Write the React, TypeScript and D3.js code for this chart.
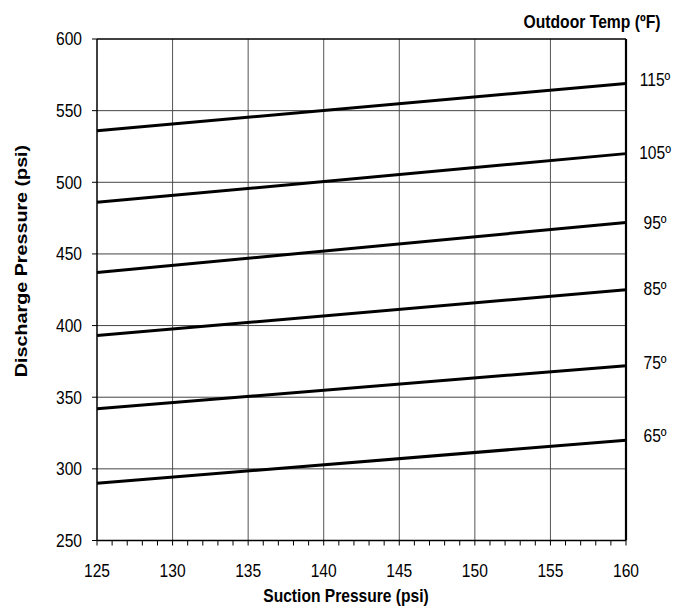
import React from "react";
import * as d3 from "d3";

const suction = [125, 160];
const temps = ["115º", "105º", "95º", "85º", "75º", "65º"];
const discharge115 = [536, 569];
const discharge105 = [486, 520];
const discharge95 = [437, 472];
const discharge85 = [393, 425];
const discharge75 = [342, 372];
const discharge65 = [290, 320];
const seriesValues = [discharge115, discharge105, discharge95, discharge85, discharge75, discharge65];
const labelValues = [571.5, 520.5, 472, 425.5, 374, 323];
const xTicks = [125, 130, 135, 140, 145, 150, 155, 160];
const yTicks = [250, 300, 350, 400, 450, 500, 550, 600];

const W = 686;
const H = 609;
const FONT = "'Liberation Sans', Arial, sans-serif";
const SY = 1.14;

function T(props: { x: number; y: number; size: number; anchor?: string; bold?: boolean; rotate?: boolean; children: React.ReactNode }) {
  const { x, y, size, anchor = "middle", bold = false, rotate = false, children } = props;
  return (
    <text
      transform={`translate(${x},${y}) scale(1,${SY})${rotate ? " rotate(-90)" : ""}`}
      fontFamily={FONT}
      fontSize={size}
      fontWeight={bold ? "bold" : "normal"}
      textAnchor={anchor}
      fill="#000"
    >
      {children}
    </text>
  );
}

export default function App() {
  const x = d3.scaleLinear().domain([125, 160]).range([97, 626]);
  const y = d3.scaleLinear().domain([250, 600]).range([540.5, 39]);
  const line = d3
    .line<[number, number]>()
    .x((d) => x(d[0]))
    .y((d) => y(d[1]));
  const minor = d3.range(125, 161, 1);
  const [x0, x1] = x.range();
  const [yb, yt] = y.range();

  return (
    <svg width={W} height={H} style={{ position: "absolute", left: 0, top: 0, background: "#fff" }}>
      <rect width={W} height={H} fill="#fff" />
      {/* grid */}
      {xTicks.slice(1, -1).map((t) => (
        <line key={"gx" + t} x1={x(t)} x2={x(t)} y1={yt} y2={yb} stroke="#555" strokeWidth={1} />
      ))}
      {yTicks.slice(1, -1).map((t) => (
        <line key={"gy" + t} x1={x0} x2={x1} y1={y(t)} y2={y(t)} stroke="#444" strokeWidth={1} />
      ))}
      {/* frame */}
      <line x1={x0} x2={x1} y1={yt} y2={yt} stroke="#000" strokeWidth={1.5} />
      <line x1={x0} x2={x1} y1={yb} y2={yb} stroke="#000" strokeWidth={1.5} />
      <line x1={x0} x2={x0} y1={yt} y2={yb} stroke="#000" strokeWidth={1.5} />
      <line x1={x1} x2={x1} y1={yt} y2={yb} stroke="#000" strokeWidth={2.2} />
      {/* x ticks */}
      {minor.map((t) => (
        <line key={"mx" + t} x1={x(t)} x2={x(t)} y1={yb} y2={yb + 5} stroke="#000" strokeWidth={1} />
      ))}
      {/* y ticks */}
      {yTicks.map((t) => (
        <line key={"ty" + t} x1={x0 - 5} x2={x0} y1={y(t)} y2={y(t)} stroke="#000" strokeWidth={1} />
      ))}
      {/* series */}
      {seriesValues.map((vals, i) => (
        <path
          key={"s" + i}
          d={line(suction.map((s, j) => [s, vals[j]] as [number, number])) || ""}
          fill="none"
          stroke="#000"
          strokeWidth={3}
        />
      ))}
      {/* tick labels */}
      {xTicks.map((t) => (
        <T key={"lx" + t} x={x(t)} y={577} size={15.6}>
          {t}
        </T>
      ))}
      {yTicks.map((t) => (
        <T key={"ly" + t} x={82} y={y(t) + 6.3} size={15.6} anchor="end">
          {t}
        </T>
      ))}
      {/* series labels */}
      {temps.map((lab, i) => (
        <T key={"tl" + i} x={655} y={y(labelValues[i]) + 6.3} size={15.6}>
          {lab}
        </T>
      ))}
      {/* titles */}
      <T x={592} y={28} size={15.7} bold>
        Outdoor Temp (ºF)
      </T>
      <T x={346} y={602} size={15.6} bold>
        Suction Pressure (psi)
      </T>
      <T x={27} y={261} size={17.3} bold rotate>
        Discharge Pressure (psi)
      </T>
    </svg>
  );
}
